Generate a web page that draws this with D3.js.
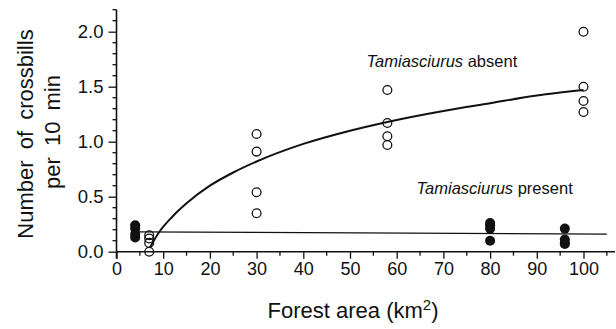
<!DOCTYPE html>
<html>
<head>
<meta charset="utf-8">
<script src="https://cdn.jsdelivr.net/npm/d3@7"></script>
<style>
  html, body { margin: 0; padding: 0; background: #fff; }
  svg { display: block; font-family: "Liberation Sans", Arial, Helvetica, sans-serif; }
</style>
</head>
<body>
<svg id="chart" width="616" height="329"></svg>
<script>
// open circles: Tamiasciurus absent
const absentArea = [7, 7, 7, 7, 30, 30, 30, 30, 58, 58, 58, 58, 100, 100, 100, 100];
const absentCount = [0.15, 0.12, 0.08, 0.0, 1.07, 0.91, 0.54, 0.35, 1.47, 1.17, 1.05, 0.97, 2.0, 1.5, 1.37, 1.27];

// filled circles: Tamiasciurus present
const presentArea = [4, 4, 4, 4, 80, 80, 80, 80, 96, 96, 96, 96];
const presentCount = [0.24, 0.21, 0.16, 0.13, 0.26, 0.24, 0.21, 0.1, 0.21, 0.11, 0.08, 0.07];

// fitted curve (absent)
const fitAbsentX = [7.2, 9, 12, 15, 20, 25, 30, 40, 50, 58, 70, 80, 90, 100];
const fitAbsentY = [0.04, 0.17, 0.32, 0.44, 0.6, 0.72, 0.82, 0.98, 1.1, 1.18, 1.28, 1.35, 1.42, 1.47];

// fitted line (present)
const fitPresentX = [4, 105];
const fitPresentY = [0.18, 0.16];

const xTicks = [0, 10, 20, 30, 40, 50, 60, 70, 80, 90, 100];
const yTicks = [0, 0.5, 1.0, 1.5, 2.0];

const svg = d3.select("#chart");

const x = d3.scaleLinear().domain([0, 107]).range([116.5, 116.5 + 107 * 4.67]);
const y = d3.scaleLinear().domain([0, 2.2]).range([251.7, 251.7 - 2.2 * 110]);

const xMinor = d3.range(5, 106, 10);
const yMinor = d3.range(0, 2.21, 0.1).filter((v) => Math.abs(v * 2 - Math.round(v * 2)) > 0.01);

// x axis
const xAxisG = svg.append("g").attr("transform", `translate(0,${y(0)})`);
xAxisG
  .call(d3.axisBottom(x).tickValues(xTicks).tickSize(7).tickPadding(4).tickFormat(d3.format("d")))
  .call((g) => g.select(".domain").remove())
  .call((g) => g.selectAll(".tick line").attr("stroke", "#111").attr("stroke-width", 1.3))
  .call((g) => g.selectAll(".tick text").attr("font-size", 18).attr("fill", "#111").attr("font-family", null));
xAxisG
  .selectAll(".minor")
  .data(xMinor)
  .join("line")
  .attr("class", "minor")
  .attr("x1", (d) => x(d))
  .attr("x2", (d) => x(d))
  .attr("y1", 0)
  .attr("y2", 4)
  .attr("stroke", "#111")
  .attr("stroke-width", 1.3);
xAxisG
  .append("line")
  .attr("x1", x(0))
  .attr("x2", 615)
  .attr("stroke", "#111")
  .attr("stroke-width", 1.6);

// y axis
const yAxisG = svg.append("g").attr("transform", `translate(${x(0)},0)`);
yAxisG
  .call(d3.axisLeft(y).tickValues(yTicks).tickSize(8).tickPadding(5).tickFormat(d3.format(".1f")))
  .call((g) => g.select(".domain").remove())
  .call((g) => g.selectAll(".tick line").attr("stroke", "#111").attr("stroke-width", 1.3))
  .call((g) => g.selectAll(".tick text").attr("font-size", 18.5).attr("fill", "#111").attr("font-family", null));
yAxisG
  .selectAll(".minor")
  .data(yMinor)
  .join("line")
  .attr("class", "minor")
  .attr("y1", (d) => y(d))
  .attr("y2", (d) => y(d))
  .attr("x1", 0)
  .attr("x2", -4)
  .attr("stroke", "#111")
  .attr("stroke-width", 1.3);
yAxisG
  .append("line")
  .attr("y1", y(0) + 7)
  .attr("y2", y(2.2))
  .attr("stroke", "#111")
  .attr("stroke-width", 1.6);

// axis titles
const xTitle = svg
  .append("text")
  .attr("x", 353)
  .attr("y", 318)
  .attr("text-anchor", "middle")
  .attr("font-size", 22)
  .attr("fill", "#111");
xTitle.append("tspan").text("Forest area (km");
xTitle.append("tspan").attr("font-size", 15).attr("dy", -8).text("2");
xTitle.append("tspan").attr("dy", 8).text(")");

svg
  .append("text")
  .attr("transform", "translate(33,134) rotate(-90)")
  .attr("text-anchor", "middle")
  .attr("font-size", 22)
  .attr("word-spacing", 5)
  .attr("fill", "#111")
  .text("Number of crossbills");
svg
  .append("text")
  .attr("transform", "translate(60,132) rotate(-90)")
  .attr("text-anchor", "middle")
  .attr("font-size", 22)
  .attr("word-spacing", 5)
  .attr("fill", "#111")
  .text("per 10 min");

// fitted lines
const line = d3.line().x((d) => x(d[0])).y((d) => y(d[1]));
svg
  .append("path")
  .datum(fitPresentX.map((v, i) => [v, fitPresentY[i]]))
  .attr("d", line)
  .attr("fill", "none")
  .attr("stroke", "#111")
  .attr("stroke-width", 1.2);
svg
  .append("path")
  .datum(fitAbsentX.map((v, i) => [v, fitAbsentY[i]]))
  .attr("d", line.curve(d3.curveMonotoneX))
  .attr("fill", "none")
  .attr("stroke", "#111")
  .attr("stroke-width", 2);

// points
svg
  .append("g")
  .selectAll("circle")
  .data(presentArea.map((v, i) => [v, presentCount[i]]))
  .join("circle")
  .attr("cx", (d) => x(d[0]))
  .attr("cy", (d) => y(d[1]))
  .attr("r", 5)
  .attr("fill", "#111");
svg
  .append("g")
  .selectAll("circle")
  .data(absentArea.map((v, i) => [v, absentCount[i]]))
  .join("circle")
  .attr("cx", (d) => x(d[0]))
  .attr("cy", (d) => y(d[1]))
  .attr("r", 4.4)
  .attr("fill", "none")
  .attr("stroke", "#111")
  .attr("stroke-width", 1.3);

// series labels
const labels = [
  { x: 366.5, y: 66.5, group: "absent" },
  { x: 416.5, y: 193.5, group: "present" },
];
labels.forEach((l) => {
  const t = svg.append("text").attr("x", l.x).attr("y", l.y).attr("font-size", 16.5).attr("fill", "#111");
  t.append("tspan").attr("font-style", "italic").text("Tamiasciurus");
  t.append("tspan").text(" " + l.group);
});
</script>
</body>
</html>
